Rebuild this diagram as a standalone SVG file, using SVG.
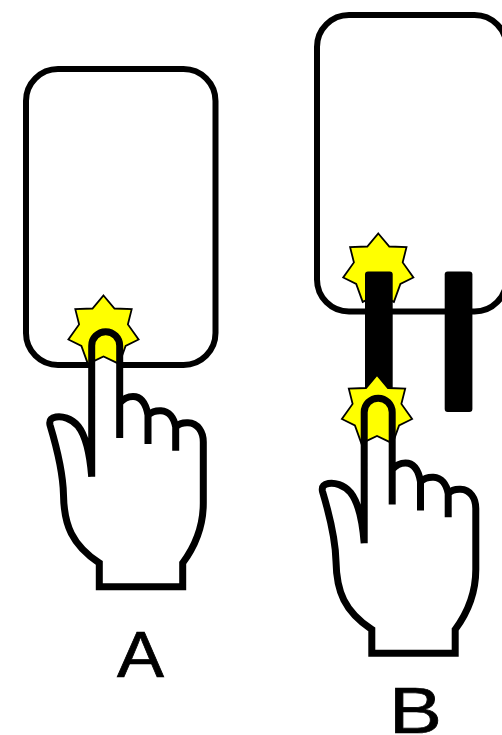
<svg xmlns="http://www.w3.org/2000/svg" width="502" height="735" viewBox="0 0 502 735">
<style>
.card{fill:#fff;stroke:#000;stroke-width:6}
.bar{fill:#000}
.star{fill:#ff0;stroke:#000;stroke-width:1.8;stroke-linejoin:miter}
.palm{fill:#fff;stroke:none}
.line{fill:none;stroke:#000;stroke-width:7;stroke-linecap:butt;stroke-linejoin:miter}
.lbl{font-family:"Liberation Sans",Arial,sans-serif;font-size:64px;fill:#000;stroke:#000;stroke-width:0.7}
</style>
<defs>
<path id="handShape" d="M91.7 476.7C90 455 86 436 78 426C71 418 62 416 56 417C51 418 49 420 50 425C56 445 63 470 63.5 495C64 525 72 545 99.3 563V586.7H182.7V563C196 545 203.3 525 203.3 503V442C203.3 432 198 423 188 422.7C184 422.5 179 423.5 175.7 427C174 418 169 411 161 410.7C157 410.5 152 411.5 148 415C146 404 141 396.5 133 396.5C128 396.5 124 398 119.7 403V345.7A14 14 0 0 0 91.7 345.7Z"/>
<path id="handLines" d="M91.7 476.7C90 455 86 436 78 426C71 418 62 416 56 417C51 418 49 420 50 425C56 445 63 470 63.5 495C64 525 72 545 99.3 563V586.7H182.7V563C196 545 203.3 525 203.3 503V442C203.3 432 198 423 188 422.7C184 422.5 179 423.5 175.7 427M175.7 450.7V427C174 418 169 411 161 410.7C157 410.5 152 411.5 148 415M148 444V415C146 404 141 396.5 133 396.5C128 396.5 124 398 119.7 403M119.7 438V345.7A14 14 0 0 0 91.7 345.7V476.7"/>
<polygon id="burst" points="0,-36 11,-23 28.2,-22.4 24.4,-7.1 35.1,8 22.1,14.4 15.6,32.4 0,25 -15.6,32.4 -22.1,14.4 -35.1,8 -24.4,-7.1 -28.2,-22.4 -11,-23"/>
</defs>
<g id="card-a"><rect class="card" x="26" y="69" width="189.5" height="296" rx="32"/></g>
<g id="card-b"><rect class="card" x="317" y="15" width="189.5" height="296.5" rx="32"/>
<use href="#burst" class="star" x="378.3" y="269.5"/>
<rect class="bar" x="365" y="271.5" width="27.7" height="140.5" rx="3"/>
<rect class="bar" x="444.7" y="271.5" width="27.7" height="140.5" rx="3"/></g>
<g id="hand-a"><use href="#handShape" class="palm"/><use href="#burst" class="star" x="103.5" y="331.5"/><use href="#handLines" class="line"/></g>
<g id="hand-b"><use href="#handShape" class="palm" x="272.5" y="66.5"/><use href="#burst" class="star" x="377" y="411"/><use href="#handLines" class="line" x="272.5" y="66.5"/></g>
<g id="connectors"></g>
<g id="label-a"><text class="lbl" x="117" y="677" textLength="47" lengthAdjust="spacingAndGlyphs">A</text></g>
<g id="label-b"><text class="lbl" x="389" y="733" textLength="53" lengthAdjust="spacingAndGlyphs">B</text></g>
</svg>
